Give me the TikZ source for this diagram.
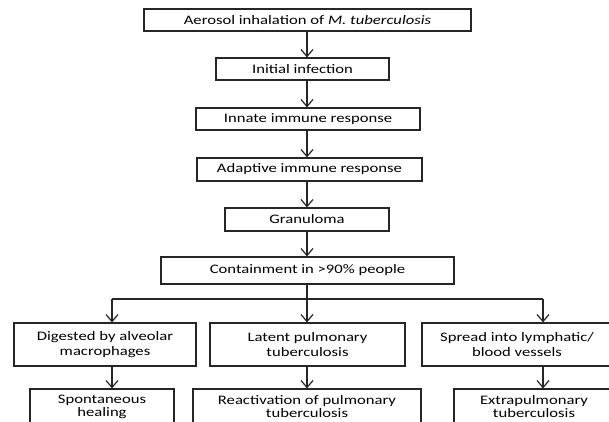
\documentclass[tikz,border=0pt]{standalone}
\usepackage{fontspec}
\setmainfont[FakeStretch=1.28]{Carlito}
\usetikzlibrary{arrows.meta}
\tikzset{
  box/.style={draw=black!85, line width=1.2pt, rectangle, inner sep=0pt, align=center,
    font=\fontsize{13}{15}\selectfont, text=black},
  lbl/.style={inner sep=0pt, align=center, font=\fontsize{13}{13}\selectfont, text=black},
  arr/.style={draw=black!85, line width=1.2pt, -{Straight Barb[length=7pt,width=12pt,line width=1.2pt]}},
  ln/.style={draw=black!85, line width=1.2pt}
}
\begin{document}
\begin{tikzpicture}[x=1pt,y=-1pt]
\path[use as bounding box] (0,0) rectangle (609,421);
\clip (0,0) rectangle (609,421);
\fill[white] (0,0) rectangle (609,421);
\coordinate (axis) at (307,0);
\coordinate (bl) at (112,299);
\coordinate (br) at (543,299);

\node[box, minimum width=327, minimum height=22] (aer) at (307.5,20) {Aerosol inhalation of \textit{M. tuberculosis}};
\node[box, minimum width=173, minimum height=22] (ini) at (302.5,69) {Initial infection};
\node[box, minimum width=224, minimum height=22] (inn) at (308,119) {Innate immune response};
\node[box, minimum width=225, minimum height=23] (ada) at (309.5,169.5) {Adaptive immune response};
\node[box, minimum width=164, minimum height=23] (gra) at (307,219.5) {Granuloma};
\node[box, minimum width=293, minimum height=27] (con) at (307.5,270.5) {Containment in {>}90\% people};

\node[box, minimum width=182, minimum height=43] (dig) at (105,344.5) {Digested by alveolar\\macrophages};
\node[box, minimum width=195, minimum height=43] (lat) at (307.5,344.5) {Latent pulmonary\\tuberculosis};
\node[box, minimum width=190, minimum height=43] (spr) at (517,344.5) {Spread into lymphatic/\\blood vessels};

\node[box, minimum width=144, minimum height=51] (spo) at (102,414.5) {};
\node[box, minimum width=228, minimum height=51] (rea) at (307,414.5) {};
\node[box, minimum width=160, minimum height=51] (ext) at (534,414.5) {};
\node[lbl] (spot) at (102,407) {Spontaneous\\healing};
\node[lbl] (reat) at (307,407) {Reactivation of pulmonary\\tuberculosis};
\node[lbl] (extt) at (534,407) {Extrapulmonary\\tuberculosis};

\draw[arr] (aer.south -| axis) -- (ini.north -| axis);
\draw[arr] (ini.south -| axis) -- (inn.north -| axis);
\draw[arr] (inn.south -| axis) -- (ada.north -| axis);
\draw[arr] (ada.south -| axis) -- (gra.north -| axis);
\draw[arr] (gra.south -| axis) -- (con.north -| axis);
\draw[arr] (con.south -| axis) -- (lat.north -| axis);
\draw[ln] (bl) -- (br);
\draw[arr] (bl) -- (dig.north -| bl);
\draw[arr] (br) -- (spr.north -| br);
\draw[arr] (dig.south -| bl) -- (spo.north -| bl);
\draw[arr] (lat.south -| axis) -- (rea.north -| axis);
\draw[arr] (spr.south -| br) -- (ext.north -| br);
\end{tikzpicture}
\end{document}
